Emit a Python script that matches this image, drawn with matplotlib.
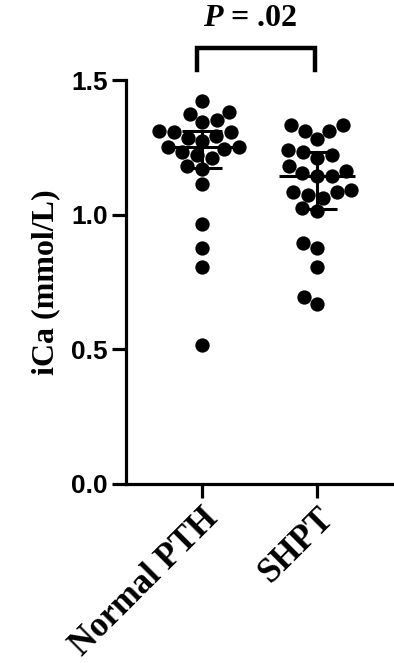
import matplotlib
matplotlib.use("Agg")
import matplotlib.pyplot as plt
import matplotlib.transforms as mtransforms
import numpy as np
import seaborn as sns

groups = ["Normal PTH", "SHPT"]
normal_pth = [1.423, 1.382, 1.373, 1.343, 1.352, 1.312, 1.293, 1.306, 1.306, 1.284,
              1.274, 1.243, 1.253, 1.253, 1.234, 1.212, 1.222, 1.181, 1.172, 1.113,
              0.965, 0.875, 0.807, 0.516]
shpt = [1.312, 1.312, 1.333, 1.333, 1.281, 1.232, 1.240, 1.212, 1.224, 1.182,
        1.163, 1.144, 1.144, 1.154, 1.073, 1.085, 1.063, 1.083, 1.094, 1.024,
        1.014, 0.896, 0.875, 0.807, 0.696, 0.668]
y_ticks = [0.0, 0.5, 1.0, 1.5]
p_text = "$\\mathbfit{P}$ = .02"

serif = "Liberation Serif"
sans = "Liberation Sans"
plt.rcParams["mathtext.fontset"] = "custom"
plt.rcParams["mathtext.bfit"] = "Liberation Serif:bold:italic"

fig = plt.figure(figsize=(3.94, 6.63), dpi=100)
ax = fig.add_axes([0.320, 0.270, 0.680, 0.609])

vals = normal_pth + shpt
cats = [groups[0]] * len(normal_pth) + [groups[1]] * len(shpt)
sns.swarmplot(x=cats, y=vals, ax=ax, color="black", size=10.3, order=groups,
              zorder=2, linewidth=0)

# median with interquartile range
for i, data in enumerate([normal_pth, shpt]):
    med = np.median(data)
    q1, q3 = np.percentile(data, [25, 75], method="weibull")
    ax.plot([i - 0.33, i + 0.33], [med, med], color="black", lw=2.2, zorder=3,
            solid_capstyle="butt")
    ax.plot([i, i], [q1, q3], color="black", lw=2.2, zorder=3)
    for q in (q1, q3):
        ax.plot([i - 0.17, i + 0.17], [q, q], color="black", lw=2.2, zorder=3,
                solid_capstyle="butt")

ax.set_xlim(-0.66, 1.67)
ax.set_ylim(0, 1.5)
ax.set_yticks(y_ticks)
ax.set_yticklabels([f"{t:.1f}" for t in y_ticks], fontfamily=sans,
                   fontweight="bold", fontsize=19)
ax.set_xticks([0, 1])
ax.set_xticklabels(groups, rotation=45, ha="right", rotation_mode="anchor",
                   fontfamily=serif, fontweight="bold", fontsize=25)
shift = mtransforms.ScaledTranslation(-6 / 72, 0, fig.dpi_scale_trans)
for lab in ax.get_xticklabels():
    lab.set_transform(lab.get_transform() + shift)
ax.set_ylabel("iCa (mmol/L)", fontfamily=serif, fontweight="bold", fontsize=23,
              labelpad=8)

for s in ("top", "right"):
    ax.spines[s].set_visible(False)
for s in ("left", "bottom"):
    ax.spines[s].set_linewidth(2.3)
ax.tick_params(axis="both", width=2.3, length=10, color="black", pad=3)

# significance bracket
ax.plot([-0.04, -0.04, 0.98, 0.98], [1.537, 1.619, 1.619, 1.537], color="black",
        lw=3.2, clip_on=False, solid_joinstyle="miter")
ax.text(0.42, 1.73, p_text, ha="center", va="center", fontfamily=serif,
        fontweight="bold", fontsize=23)

fig.savefig("out.png", dpi=100)
